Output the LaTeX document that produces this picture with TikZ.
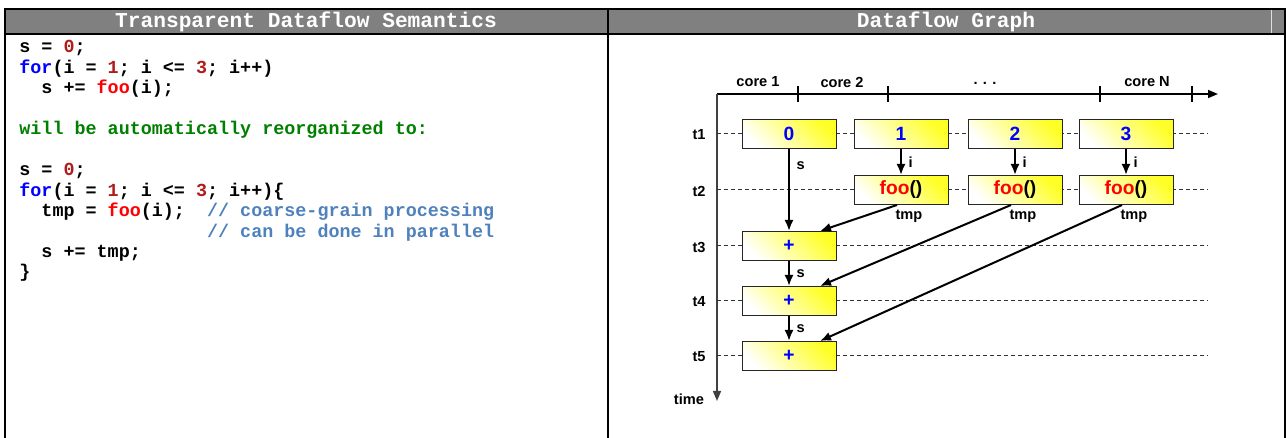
\documentclass[tikz,border=0pt]{standalone}
\usepackage{fontspec}
\setmainfont{Liberation Sans}
\newfontfamily\codefont{Liberation Mono}
\usepackage{tikz}
\usetikzlibrary{positioning, arrows.meta, calc}

\definecolor{hdrgray}{RGB}{128,128,128}
\definecolor{numred}{RGB}{176,28,28}
\definecolor{kwblue}{RGB}{0,0,255}
\definecolor{fnred}{RGB}{255,0,0}
\definecolor{notegreen}{RGB}{0,128,0}
\definecolor{cmtblue}{RGB}{79,129,189}
\definecolor{boxyellow}{RGB}{255,255,40}

\newcommand{\cnum}[1]{\textcolor{numred}{#1}}
\newcommand{\ckw}[1]{\textcolor{kwblue}{#1}}
\newcommand{\cfn}[1]{\textcolor{fnred}{#1}}

\tikzset{
	header/.style={text=white, anchor=base, inner sep=0pt, font=\codefont\bfseries\fontsize{10.6}{12}\selectfont},
	codeline/.style={anchor=base west, inner sep=0pt, font=\codefont\bfseries\fontsize{9.2}{11}\selectfont},
	opbox/.style={draw=black!85, line width=0.5pt, minimum width=47pt, minimum height=14.5pt, inner sep=0pt,
		top color=boxyellow, bottom color=white, shading angle=-45, font=\bfseries\fontsize{9.6}{10}\selectfont},
	lbl/.style={font=\bfseries\fontsize{7.3}{8}\selectfont},
	flow/.style={-{Latex[length=5.5pt,width=4.5pt]}, line width=1pt},
	rowline/.style={dash pattern=on 2pt off 1.5pt, line width=0.5pt, black!80},
	axis/.style={line width=0.75pt, -{Triangle[length=5pt,width=4pt]}},
}

\begin{document}
\begin{tikzpicture}[x=0.5pt, y=-0.5pt]
		
		\useasboundingbox (0,0) rectangle (1286,438);
		
		% Table frame and headers
		\fill[hdrgray] (5,9) rectangle (1285,34);
		\draw[white!75!gray, line width=0.5pt] (1271,10) -- (1271,33);
		\draw[line width=1pt] (5,438) -- (5,9) -- (1285,9) -- (1285,438);
		\draw[line width=1pt] (5,34) -- (1285,34);
		\draw[line width=1pt] (608,9) -- (608,438);
		\node[header] (hleft) at (306,28) {Transparent Dataflow Semantics};
		\node[header] (hright) at (946,28) {Dataflow Graph};
		
		% Code
		\node[codeline] (l1) at (19,53) {s = \cnum{0};};
		\node[codeline] (l2) at (19,73.4) {\ckw{for}(i = \cnum{1}; i <= \cnum{3}; i++)};
		\node[codeline] (l3) at (19,93.8) {~~s += \cfn{foo}(i);};
		\node[codeline] (l4) at (19,135) {\textcolor{notegreen}{will be automatically reorganized to:}};
		\node[codeline] (l5) at (19,176) {s = \cnum{0};};
		\node[codeline] (l6) at (19,196.4) {\ckw{for}(i = \cnum{1}; i <= \cnum{3}; i++)\{};
		\node[codeline] (l7) at (19,216.8) {~~tmp = \cfn{foo}(i);~~\textcolor{cmtblue}{// coarse-grain processing}};
		\node[codeline] (l8) at (19,237.2) {~~~~~~~~~~~~~~~~~\textcolor{cmtblue}{// can be done in parallel}};
		\node[codeline] (l9) at (19,257.6) {~~s += tmp;};
		\node[codeline] (l10) at (19,278) {\}};
		
		% Draw axes
		\coordinate (O) at (717,94);
		\draw[axis] (O) -- (1218,94);
		\draw[axis, black!75] (O) -- (717,401);
		\node[lbl, left] (timelbl) at (711,399) {time};
		
		% Add tick marks
		\foreach \x in {798,888,1100,1192}
		\draw[line width=0.75pt] (\x,86) -- (\x,102);
		
		\node[lbl] (c1) at (758,82) {core 1};
		\node[lbl] (c2) at (842,82) {core 2};
		\node[lbl] (cdots) at (985,83) {. . .};
		\node[lbl] (cN) at (1147,82) {core N};
		
		% Time steps
		\foreach \y [count=\k] in {134,190,246,301,356} {
			\draw[rowline] (717,\y) -- (1208,\y);
			\node[lbl] (t\k) at (699,\y+1) {t\k};
		}
		
		% Operations
		\node[opbox] (n0) at (789,134) {\textcolor{kwblue}{0}};
		\foreach \x/\v [count=\k] in {901/1,1015/2,1126/3} {
			\node[opbox] (in\k) at (\x,134) {\textcolor{kwblue}{\v}};
			\node[opbox] (foo\k) at (\x,190) {\cfn{foo}()};
			\node[lbl, below=-1pt of foo\k, xshift=4pt] (tmp\k) {tmp};
			\draw[flow] (in\k) -- node[lbl, right] (i\k) {i} (foo\k);
		}
		\foreach \y/\k in {246/3,301/4,356/5}
		\node[opbox] (sum\k) at (789,\y) {\textcolor{kwblue}{+}};
		
		% Data dependencies
		\draw[flow] (n0) -- node[lbl, right, pos=0.2] (s3) {s} (sum3);
		\draw[flow] (sum3) -- node[lbl, right] (s4) {s} (sum4);
		\draw[flow] (sum4) -- node[lbl, right] (s5) {s} (sum5);
		\foreach \k/\t in {1/3,2/4,3/5}
		\draw[flow] ([xshift=-2pt]foo\k.south) -- ([xshift=15.5pt]sum\t.north);
		
	\end{tikzpicture}
\end{document}
